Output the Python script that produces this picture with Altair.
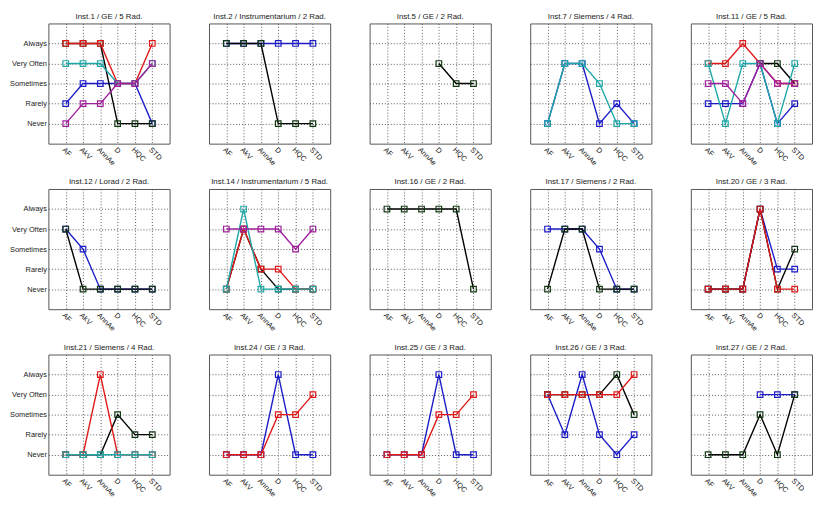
import altair as alt
import pandas as pd

CATEGORIES = ["AF", "AkV", "AnnAe", "D", "HQC", "STD"]
LEVELS = ["Never", "Rarely", "Sometimes", "Very Often", "Always"]

TITLES = [
    "Inst.1 / GE / 5 Rad.", "Inst.2 / Instrumentarium / 2 Rad.", "Inst.5 / GE / 2 Rad.",
    "Inst.7 / Siemens / 4 Rad.", "Inst.11 / GE / 5 Rad.",
    "Inst.12 / Lorad / 2 Rad.", "Inst.14 / Instrumentarium / 5 Rad.", "Inst.16 / GE / 2 Rad.",
    "Inst.17 / Siemens / 2 Rad.", "Inst.20 / GE / 3 Rad.",
    "Inst.21 / Siemens / 4 Rad.", "Inst.24 / GE / 3 Rad.", "Inst.25 / GE / 3 Rad.",
    "Inst.26 / GE / 3 Rad.", "Inst.27 / GE / 2 Rad.",
]

N = None
# values: 1=Never 2=Rarely 3=Sometimes 4=Very Often 5=Always, per category
INST1 = {"blue": [2, 3, 3, 3, 3, 1], "black": [5, 5, 5, 1, 1, 1], "red": [5, 5, 5, 3, 3, 5],
         "cyan": [4, 4, 4, 3, 3, 4], "magenta": [1, 2, 2, 3, 3, 4]}
INST2 = {"blue": [5, 5, 5, 5, 5, 5], "black": [5, 5, 5, 1, 1, 1]}
INST5 = {"black": [N, N, N, 4, 3, 3]}
INST7 = {"blue": [1, 4, 4, 1, 2, 1], "cyan": [1, 4, 4, 3, 1, 1]}
INST11 = {"blue": [2, 2, 2, 4, 1, 2], "black": [N, N, N, 4, 4, 3], "red": [4, 4, 5, 4, 3, 3],
          "cyan": [4, 1, 4, 4, 1, 4], "magenta": [3, 3, 2, 4, 3, 3]}
INST12 = {"blue": [4, 3, 1, 1, 1, 1], "black": [4, 1, 1, 1, 1, 1]}
INST14 = {"black": [1, 4, 2, 1, 1, 1], "red": [1, 4, 2, 2, 1, 1], "cyan": [1, 5, 1, 1, 1, 1],
          "magenta": [4, 4, 4, 4, 3, 4]}
INST16 = {"black": [5, 5, 5, 5, 5, 1]}
INST17 = {"blue": [4, 4, 4, 3, 1, 1], "black": [1, 4, 4, 1, 1, 1]}
INST20 = {"blue": [1, 1, 1, 5, 2, 2], "black": [1, 1, 1, 5, 1, 3], "red": [1, 1, 1, 5, 1, 1]}
INST21 = {"black": [1, 1, 1, 3, 2, 2], "red": [1, 1, 5, 1, 1, 1], "cyan": [1, 1, 1, 1, 1, 1]}
INST24 = {"blue": [1, 1, 1, 5, 1, 1], "red": [1, 1, 1, 3, 3, 4]}
INST25 = {"blue": [1, 1, 1, 5, 1, 1], "red": [1, 1, 1, 3, 3, 4]}
INST26 = {"blue": [4, 2, 5, 2, 1, 2], "black": [4, 4, 4, 4, 5, 3], "red": [4, 4, 4, 4, 4, 5]}
INST27 = {"blue": [N, N, N, 4, 4, 4], "black": [1, 1, 1, 3, 1, 4]}

PANELS = [INST1, INST2, INST5, INST7, INST11, INST12, INST14, INST16, INST17, INST20,
          INST21, INST24, INST25, INST26, INST27]

SERIES_ORDER = ["blue", "black", "red", "cyan", "magenta"]
LINE_COLORS = {"blue": "#1c1cc8", "black": "#000000", "red": "#e01818", "cyan": "#1fa8a8",
               "magenta": "#a0209c"}
MARK_COLORS = {"blue": "#1c1cc8", "black": "#123812", "red": "#e01818", "cyan": "#1fa8a8",
               "magenta": "#a0209c"}

W, H = 123, 122

x_label_expr = "[" + ",".join("'" + c + "'" for c in CATEGORIES) + "][datum.value - 1]"
y_label_expr = "[" + ",".join("'" + c + "'" for c in LEVELS) + "][datum.value - 1]"


def panel(idx):
    series = PANELS[idx]
    first_col = idx % 5 == 0
    x_enc = alt.X("x:Q", scale=alt.Scale(domain=[0, 7], nice=False, zero=False),
                  axis=alt.Axis(values=[1, 2, 3, 4, 5, 6], labelExpr=x_label_expr, title=None,
                                labelAngle=45, labelAlign="left", labelBaseline="top",
                                labelPadding=2, labelFlush=False, labelOverlap=False))
    y_enc = alt.Y("y:Q", scale=alt.Scale(domain=[0, 6], nice=False, zero=False),
                  axis=alt.Axis(values=[1, 2, 3, 4, 5], labelExpr=y_label_expr, title=None,
                                labels=first_col, labelPadding=2, labelFlush=False,
                                labelOverlap=False))
    layers = []
    for name in SERIES_ORDER:
        if name not in series:
            continue
        vals = series[name]
        df = pd.DataFrame({"x": list(range(1, 7)), "y": vals}).dropna()
        base = alt.Chart(df).encode(x=x_enc, y=y_enc)
        layers.append(base.mark_line(color=LINE_COLORS[name], strokeWidth=1.4))
        layers.append(base.mark_point(shape="square", filled=False, size=32, strokeWidth=1.2,
                                      color=MARK_COLORS[name], opacity=1))
    return alt.layer(*layers).properties(
        width=W, height=H,
        title=alt.TitleParams(TITLES[idx], anchor="middle", frame="group"))


rows = []
for r in range(3):
    rows.append(alt.hconcat(*[panel(r * 5 + c) for c in range(5)], spacing=38))

chart = alt.vconcat(*rows, spacing=10).properties(padding=0).configure_view(
    stroke="#555555", strokeWidth=1
).configure_axis(
    grid=True, gridColor="#5a5a5a", gridDash=[1, 2], gridWidth=1, gridOpacity=1,
    ticks=False, domain=False, labelFont="Liberation Sans", labelFontSize=7.5,
    labelColor="#222222"
).configure_title(
    font="Liberation Sans", fontSize=8, fontWeight="normal", color="#222222", offset=3
)

chart.save("out.html", embed_options={"renderer": "svg", "actions": False})
